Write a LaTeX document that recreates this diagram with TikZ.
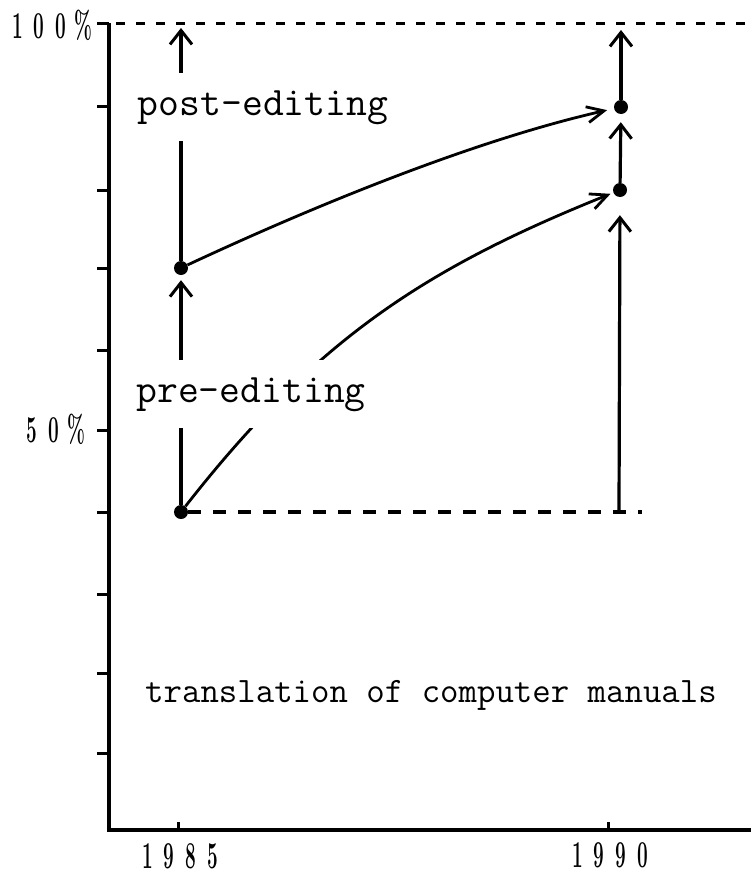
\documentclass[tikz,border=0pt]{standalone}
\usepackage{fontspec}
\usetikzlibrary{arrows.meta}
\begin{document}
\begin{tikzpicture}[x=1bp,y=-1bp,
  axis/.style={line width=4bp},
  tickmark/.style={line width=3bp},
  dot/.style={circle,fill=black,inner sep=0pt,minimum size=14bp},
  upar/.style={line width=3.2bp,-{Straight Barb[length=14bp,width=22bp,line width=3bp]}},
  curvar/.style={line width=2.8bp,-{Straight Barb[length=17bp,width=16bp,line width=2.8bp]}},
  guide/.style={line width=3bp,dash pattern=on 9bp off 11bp},
  guideb/.style={line width=3.2bp,dash pattern=on 13bp off 12bp},
  lab/.style={font=\fontsize{40.5bp}{40.5bp}\selectfont\ttfamily, fill=white, inner xsep=2bp, inner ysep=17bp, text height=25bp, text depth=9bp, anchor=base},
  note/.style={font=\fontsize{35.8bp}{35.8bp}\selectfont\ttfamily, anchor=base, inner sep=0pt},
  num/.style={font=\fontsize{38bp}{38bp}\selectfont\bfseries, inner sep=0pt}
]
\useasboundingbox (0,0) rectangle (751,877);

% axes
\coordinate (ytop) at (109,23);
\coordinate (orig) at (109,830);
\coordinate (xend) at (751,830);
\draw[axis] (ytop) -- (orig) -- (xend);
\foreach \yy in {23,106,190,268,350,430,512,594,673,753}
  \draw[tickmark] (97,\yy) -- (109,\yy);
\draw[tickmark] (178,830) -- (178,822);
\draw[tickmark] (608,830) -- (608,822);

% axis labels
\node[num] (l100) at (52,25) {\scalebox{0.5}[1]{1\hspace{22bp}0\hspace{22bp}0\hspace{16bp}\%}};
\node[num] (l50) at (56,429) {\scalebox{0.5}[1]{5\hspace{22bp}0\hspace{16bp}\%}};
\node[num] (l85) at (180,856) {\scalebox{0.5}[1]{1\hspace{22bp}9\hspace{22bp}8\hspace{22bp}5}};
\node[num] (l90) at (610,855) {\scalebox{0.5}[1]{1\hspace{22bp}9\hspace{22bp}9\hspace{22bp}0}};

% points
\node[dot] (postA) at (181,268) {};
\node[dot] (preA) at (181,512) {};
\node[dot] (B1) at (621,107) {};
\node[dot] (A1) at (620,190) {};
\coordinate (base) at (619,512);
\coordinate (top1) at (181,28);
\coordinate (top2) at (621,30);
\coordinate (gstart) at (116,23);
\coordinate (gend) at (751,23);
\coordinate (dend) at (642,512);

% guide lines
\draw[guide] (gstart) -- (gend);
\draw[guideb] (preA) -- (dend);

% vertical arrows
\draw[upar] (postA) -- (top1);
\draw[upar,shorten >=5bp] (preA) -- (postA);
\draw[upar] (B1) -- (top2);
\draw[upar,shorten >=8bp] (A1) -- (B1);
\draw[upar,shorten >=18bp] (base) -- (A1);

% curves
\draw[curvar,shorten >=7bp] (postA) .. controls (307.8,208.8) and (471.2,140.9) .. (B1);
\draw[curvar,shorten >=3bp] (preA) .. controls (316.5,338.6) and (426,268) .. (A1);

% labels
\node[lab] (post) at (263,115) {post-editing};
\node[lab] (pre) at (251,402) {pre-editing};
\node[note] (manual) at (431,702) {translation of computer manuals};
\end{tikzpicture}
\end{document}
